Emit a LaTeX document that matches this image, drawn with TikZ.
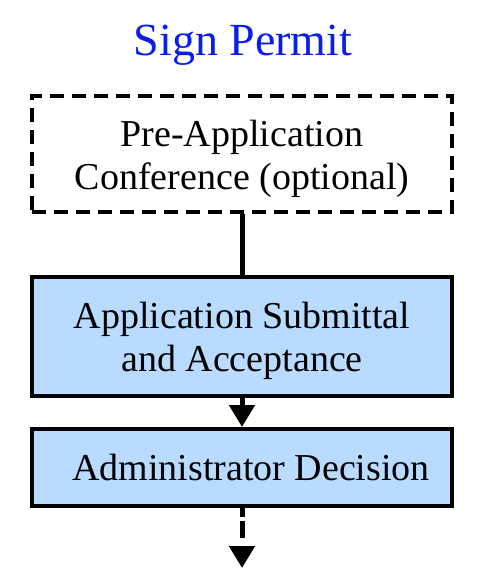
\documentclass[tikz,border=0pt]{standalone}
\usepackage{fontspec}
\setmainfont{Liberation Serif}
\usetikzlibrary{arrows.meta}
\definecolor{titleblue}{RGB}{10,30,235}
\definecolor{boxfill}{RGB}{184,219,255}
\newcommand\boxtext[2][5pt]{\raisebox{-#1}[\height][\depth]{\begin{tabular}{@{}c@{}}#2\end{tabular}}}
\tikzset{
  stepbox/.style={draw=black, line width=4pt, minimum width=420pt, align=center,
    font=\fontsize{38}{43}\selectfont, inner sep=0pt},
  filledbox/.style={stepbox, fill=boxfill},
  optbox/.style={stepbox, dash pattern=on 14pt off 8pt},
  conn/.style={line width=5pt},
  tip/.style={-{Triangle[width=25pt,length=22pt]}}
}
\begin{document}
\begin{tikzpicture}[x=1pt,y=-1pt]
\useasboundingbox (0,0) rectangle (483,575);
\node[text=titleblue, font=\fontsize{46}{50}\selectfont, inner sep=0pt] (title) at (243,45) {Sign Permit};
\node[optbox, minimum height=116pt] (pre) at (242,154) {\boxtext[5pt]{Pre-Application\\Conference (optional)}};
\node[filledbox, minimum height=119pt] (app) at (242,336.5) {\boxtext[5pt]{Application Submittal\\and Acceptance}};
\node[filledbox, minimum height=77pt] (dec) at (242,467.5) {\boxtext[4pt]{\hspace*{18pt}Administrator Decision}};
\coordinate (end) at (242,568);
\draw[conn] (pre.south) -- (app.north);
\draw[conn, tip] (app.south) -- (dec.north);
\draw[conn, tip, dash pattern=on 9pt off 4pt on 17pt off 8pt] (dec.south) -- (end);
\end{tikzpicture}
\end{document}
